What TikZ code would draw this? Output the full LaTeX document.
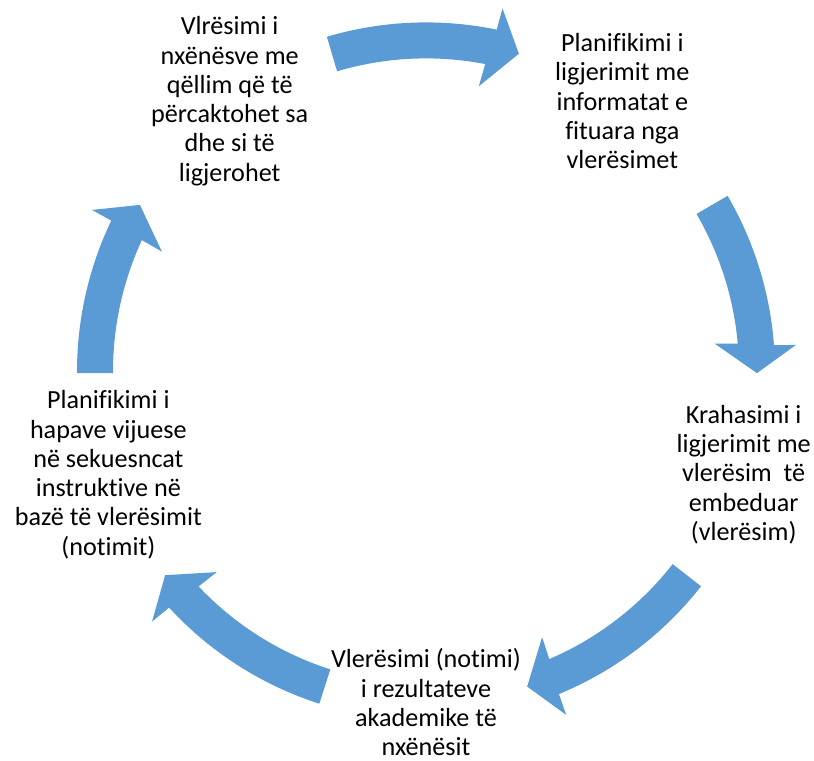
\documentclass[tikz,border=0pt]{standalone}
\usepackage{fontspec}
\setmainfont{Carlito}[Ligatures=NoCommon]
\usetikzlibrary{calc}
\definecolor{arrowblue}{RGB}{91,155,213}
\def\cyclearrow(#1:#2){\fill[arrowblue] (#1:349) arc[start angle=#1, end angle=#2+4.6, radius=349] -- (#2+4.4:371) -- (#2:331) -- (#2+5.8:290) -- (#2+5.4:313) arc[start angle=#2+5.4, end angle=#1, radius=313] -- cycle;}
\tikzset{cycletext/.style={align=center, inner sep=0pt, font=\fontsize{18.6}{20.8}\selectfont}}

\begin{document}
\begin{tikzpicture}[x=0.025cm, y=0.025cm]
			%%%%% START %%%%%
			
			\useasboundingbox (-426, -389.6) rectangle (388, 371.4);
			
			\cyclearrow(106.5:73.7);
			\cyclearrow(30.2:-0.3);
			\cyclearrow(-38:-72.2);
			\cyclearrow(-107.8:-142);
			\cyclearrow(180.3:149.8);
			
			\node[cycletext] (vlr) at (126:334) {Vlrësimi i\\nxënësve me\\qëllim që të\\përcaktohet sa\\dhe si të\\ligjerohet};
			\node[cycletext] (plan) at (54:334) {Planifikimi i\\ligjerimit me\\informatat e\\fituara nga\\vlerësimet};
			\node[cycletext] (krah) at (-18:334) {Krahasimi i\\ligjerimit me\\vlerësim\ \ të\\embeduar\\(vlerësim)};
			\node[cycletext] (nota) at (-90:331) {Vlerësimi (notimi)\\i rezultateve\\akademike të\\nxënësit};
			\node[cycletext] (hapa) at (198:334) {Planifikimi i\\hapave vijuese\\në sekuesncat\\instruktive në\\bazë të vlerësimit\\(notimit)};
			
			%%%%% END %%%%%
\end{tikzpicture}
\end{document}
